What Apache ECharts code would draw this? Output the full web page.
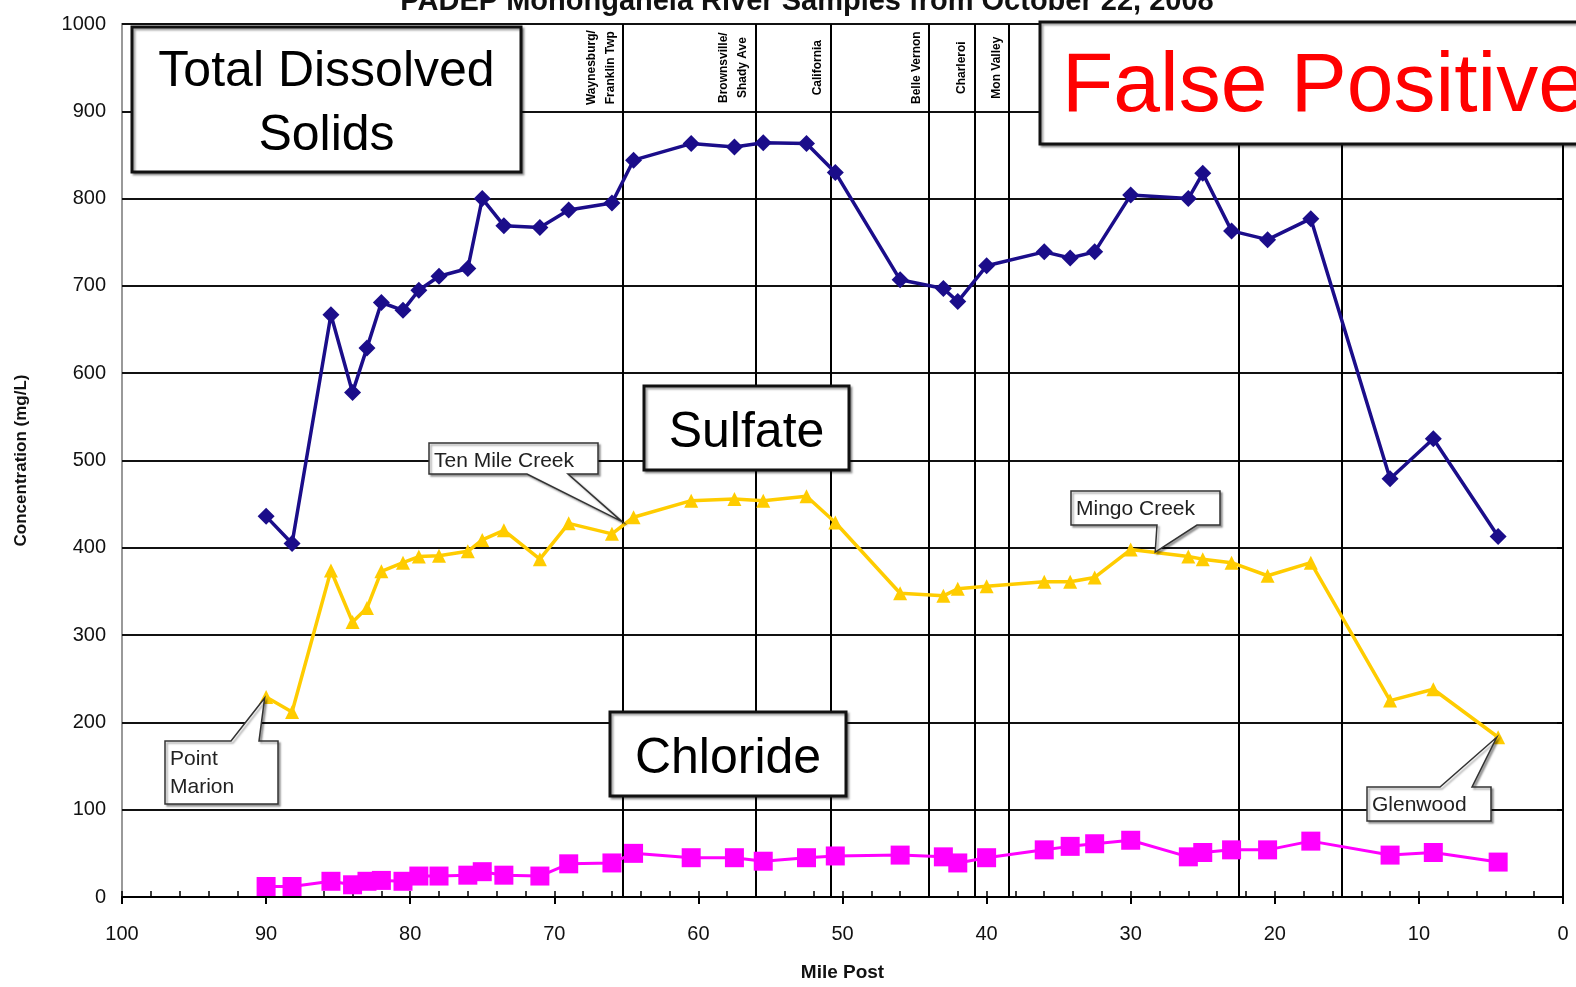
<!DOCTYPE html>
<html>
<head>
<meta charset="utf-8">
<title>Monongahela River Samples</title>
<script src="https://cdn.jsdelivr.net/npm/echarts@6/dist/echarts.min.js"></script>
<style>
  html, body { margin: 0; padding: 0; background: #fff; }
  #chart { width: 1576px; height: 987px; }
</style>
</head>
<body>
<div id="chart"></div>
<script>
// sample locations (river mile) and measured concentrations (mg/L)
const miles = [90, 88.2, 85.5, 84, 83, 82, 80.5, 79.4, 78, 76, 75, 73.5, 71, 69, 66, 64.5, 60.5, 57.5, 55.5, 52.5, 50.5, 46, 43, 42, 40, 36, 34.2, 32.5, 30, 26, 25, 23, 20.5, 17.5, 12, 9, 4.5];
const tds = [436, 405, 667, 578, 629, 681, 672, 695, 711, 720, 800, 769, 767, 787, 795, 844, 863, 859, 864, 863, 830, 707, 697, 682, 723, 739, 732, 739, 804, 800, 829, 763, 753, 777, 479, 525, 413];
const sulfate = [229, 212, 374, 315, 331, 373, 383, 390, 391, 396, 409, 420, 387, 428, 416, 435, 454, 456, 454, 459, 429, 348, 345, 353, 356, 361, 361, 366, 398, 390, 387, 383, 368, 383, 225, 238, 183];
const chloride = [12, 12, 18, 14, 18, 19, 18, 24, 24, 25, 29, 25, 24, 38, 39, 50, 45, 45, 41, 45, 47, 48, 46, 39, 45, 54, 58, 61, 65, 46, 51, 54, 54, 64, 48, 51, 40];

// water intakes drawn as vertical lines
const intakeMiles = [65.25, 56.05, 50.85, 44.0, 40.85, 38.45, 22.5, 15.35];
const intakeNames = ['Waynesburg/\nFranklin Twp', 'Brownsville/\nShady Ave', 'California', 'Belle Vernon', 'Charleroi', 'Mon Valley', '', ''];

// callouts: text and the [mile, value] they point to
const calloutTexts = ['Ten Mile Creek', 'Point\nMarion', 'Mingo Creek', 'Glenwood'];
const calloutPoints = [[65.3, 430], [90.1, 228], [28.3, 395], [4.6, 183]];

const FONT = 'Liberation Sans, Arial, sans-serif';

const chart = echarts.init(document.getElementById('chart'), null, { renderer: 'canvas' });

const pairs = vals => miles.map((m, i) => [m, vals[i]]);

const makeSeries = (name, vals, color, symbol, size, width) => ({
  name: name,
  type: 'line',
  data: pairs(vals),
  symbol: symbol,
  symbolSize: size,
  z: 5,
  lineStyle: { color: color, width: width },
  itemStyle: { color: color },
  emphasis: { disabled: true },
  animation: false
});

const markData = [];
intakeMiles.forEach((m, i) => {
  markData.push({ xAxis: m, lineStyle: { color: '#000', width: 2, type: 'solid' }, label: { show: false } });
  if (intakeNames[i]) {
    markData.push([
      { coord: [m, 900], name: intakeNames[i] },
      { coord: [m, 1000] }
    ]);
  }
});

const option = {
  backgroundColor: '#fff',
  animation: false,
  grid: { left: 122, right: 13, top: 24, bottom: 90, show: true, borderColor: '#999', borderWidth: 2 },
  xAxis: [{
    type: 'value', min: 0, max: 100, interval: 10, inverse: true,
    axisLine: { show: true, onZero: false, lineStyle: { color: '#000', width: 2 } },
    axisTick: { show: true, inside: false, length: 7, lineStyle: { color: '#000', width: 2 } },
    axisLabel: { color: '#111', fontSize: 20, margin: 27, fontFamily: FONT },
    splitLine: { show: false },
    name: 'Mile Post', nameLocation: 'middle', nameGap: 66,
    nameTextStyle: { color: '#111', fontWeight: 'bold', fontSize: 19, fontFamily: FONT }
  }, {
    type: 'value', min: 0, max: 100, interval: 10, inverse: true, position: 'bottom',
    axisLine: { show: false }, axisLabel: { show: false }, splitLine: { show: false },
    axisTick: { show: true, inside: true, length: 6, lineStyle: { color: '#000', width: 1.5 } },
    minorTick: { show: true, splitNumber: 5, length: 6, lineStyle: { color: '#000', width: 1.5 } }
  }],
  yAxis: {
    type: 'value', min: 0, max: 1000, interval: 100,
    axisLine: { show: true, lineStyle: { color: '#000', width: 2 } },
    axisTick: { show: true, length: 6, lineStyle: { color: '#000', width: 2 } },
    axisLabel: { color: '#111', fontSize: 20, margin: 16, fontFamily: FONT, formatter: v => String(v) },
    splitLine: { show: true, lineStyle: { color: '#111', width: 2 } },
    name: 'Concentration (mg/L)', nameLocation: 'middle', nameGap: 92,
    nameTextStyle: { color: '#111', fontWeight: 'bold', fontSize: 17, fontFamily: FONT }
  },
  series: [
    {
      name: 'intakes', type: 'line', data: [], z: 3,
      markLine: {
        silent: true, symbol: ['none', 'none'], animation: false,
        lineStyle: { color: 'transparent', width: 0, type: 'solid' },
        label: {
          show: true, position: 'insideMiddleTop', formatter: '{b}', distance: 3,
          color: '#000', fontSize: 12, fontWeight: 'bold', lineHeight: 19, fontFamily: FONT
        },
        emphasis: { disabled: true },
        data: markData
      }
    },
    makeSeries('Total Dissolved Solids', tds, '#1b0d8a', 'diamond', 17, 3.5),
    makeSeries('Sulfate', sulfate, '#ffcc00', 'triangle', 14, 3.5),
    makeSeries('Chloride', chloride, '#ff00ff', 'rect', 19, 3)
  ]
};

chart.setOption(option);

// boxes for the callouts [left, top, right, bottom] and the wedge base on one edge
const calloutBoxes = [
  { box: [429, 443, 598, 474], base: [527, 568], edge: 'bottom' },
  { box: [165, 741, 278, 804], base: [231, 259], edge: 'top' },
  { box: [1071, 491, 1220, 525], base: [1157, 1197], edge: 'bottom' },
  { box: [1367, 787, 1491, 821], base: [1440, 1472], edge: 'top' }
];

const graphics = [];

// title, cut off at the top of the picture
graphics.push({
  type: 'text', x: 807, y: -13, z: 100,
  style: { text: 'PADEP Monongahela River Samples from October 22, 2008', fill: '#111',
    fontSize: 29, fontWeight: 'bold', fontFamily: FONT, align: 'center', verticalAlign: 'top' }
});

const bigBox = (l, t, r, b, text, color, size, align) => {
  graphics.push({
    type: 'rect', z: 100,
    shape: { x: l, y: t, width: r - l, height: b - t },
    style: { fill: '#fff', stroke: '#111', lineWidth: 3,
      shadowColor: 'rgba(0,0,0,0.35)', shadowBlur: 2, shadowOffsetX: 2, shadowOffsetY: 2 }
  });
  graphics.push({
    type: 'text', z: 101,
    x: align === 'left' ? l + 22 : (l + r) / 2, y: (t + b) / 2 + 5,
    style: { text: text, fill: color, fontSize: size, fontFamily: FONT, lineHeight: 64,
      align: align || 'center', verticalAlign: 'middle' }
  });
};

bigBox(132, 27, 521, 172, 'Total Dissolved\nSolids', '#000', 50);
bigBox(1040, 22, 1600, 144, 'False Positive', '#ff0000', 84, 'left');
bigBox(644, 386, 849, 470, 'Sulfate', '#000', 50);
bigBox(610, 712, 846, 796, 'Chloride', '#000', 50);

calloutTexts.forEach((text, i) => {
  const tip = chart.convertToPixel({ xAxisIndex: 0, yAxisIndex: 0 }, calloutPoints[i]);
  const c = calloutBoxes[i];
  const [l, t, r, b] = c.box;
  let pts;
  if (c.edge === 'bottom') {
    pts = [[l, t], [r, t], [r, b], [c.base[1], b], tip, [c.base[0], b], [l, b]];
  } else {
    pts = [[l, t], [c.base[0], t], tip, [c.base[1], t], [r, t], [r, b], [l, b]];
  }
  graphics.push({
    type: 'polygon', z: 100,
    shape: { points: pts },
    style: { fill: '#fff', stroke: '#333', lineWidth: 1.5,
      shadowColor: 'rgba(0,0,0,0.35)', shadowBlur: 2, shadowOffsetX: 2, shadowOffsetY: 2 }
  });
  graphics.push({
    type: 'text', z: 101, x: l + 5, y: t + 4,
    style: { text: text, fill: '#222', fontSize: 21, fontFamily: FONT, lineHeight: 28,
      align: 'left', verticalAlign: 'top' }
  });
});

chart.setOption({ graphic: graphics });
</script>
</body>
</html>
